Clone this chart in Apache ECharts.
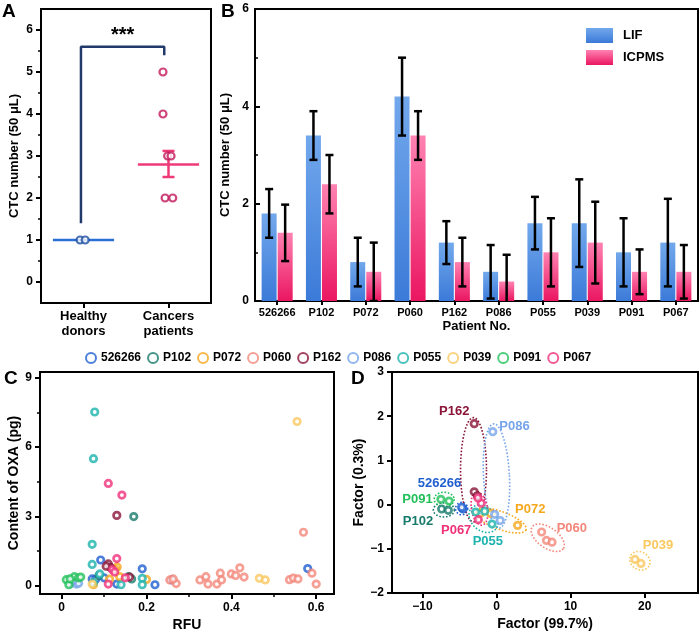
<!DOCTYPE html>
<html><head><meta charset="utf-8">
<script src="https://cdn.jsdelivr.net/npm/echarts@6/dist/echarts.min.js"></script>
<style>html,body{margin:0;padding:0;background:#fff}#c{width:700px;height:633px}</style>
</head><body><div id="c"></div>
<script>
// ---------- Panel A data ----------
const groupsA = ['Healthy\ndonors', 'Cancers\npatients'];
const yTicksA = [0, 1, 2, 3, 4, 5, 6];
const yMinorA = [0.5, 1.5, 2.5, 3.5, 4.5, 5.5];
const healthyPts = [[0.46, 1], [0.52, 1]];
const cancerPts = [[1.435, 5], [1.435, 4], [1.49, 3], [1.53, 3], [1.46, 2], [1.55, 2]];
const healthyMeanLine = [[0.14, 1], [0.86, 1]];
const cancerMeanLine = [[1.14, 2.8], [1.86, 2.8]];
const cancerSem = [[1.5, 2.5, 3.12]];
const bracket = [[0.47, 1.4], [0.47, 5.6], [1.45, 5.6], [1.45, 5.4]];
const sigMark = [[0.96, 5.88, '***']];

// ---------- Panel B data ----------
const patients = ['526266', 'P102', 'P072', 'P060', 'P162', 'P086', 'P055', 'P039', 'P091', 'P067'];
const lifVals = [1.8, 3.4, 0.8, 4.2, 1.2, 0.6, 1.6, 1.6, 1.0, 1.2];
const lifErr  = [0.5, 0.5, 0.5, 0.8, 0.44, 0.55, 0.54, 0.9, 0.7, 0.9];
const icpVals = [1.4, 2.4, 0.6, 3.4, 0.8, 0.4, 1.0, 1.2, 0.6, 0.6];
const icpErr  = [0.58, 0.6, 0.6, 0.5, 0.5, 0.55, 0.7, 0.84, 0.46, 0.55];

// ---------- Panel C data (RFU, OXA pg) ----------
const C_526266 = [[0.092,1.12],[0.19,0.74],[0.22,0.05],[0.26,0.26],[0.58,0.75],[0.072,0.3],[0.08,0.28],[0.13,0.08],[0.1,0.35]];
const C_P102 = [[0.17,3.0],[0.158,0.4],[0.165,0.3],[0.088,0.45]];
const C_P072 = [[0.131,0.82],[0.137,0.4],[0.113,0.29],[0.2,0.28],[0.075,0.05],[0.126,0.72]];
const C_P060 = [[0.57,2.32],[0.255,0.26],[0.27,0.1],[0.326,0.26],[0.34,0.4],[0.345,0.08],[0.366,0.08],[0.374,0.55],[0.377,0.26],[0.4,0.52],[0.41,0.45],[0.42,0.78],[0.43,0.38],[0.537,0.27],[0.546,0.34],[0.557,0.3],[0.59,0.55],[0.6,0.08],[0.263,0.3]];
const C_P162 = [[0.13,3.05],[0.11,0.95],[0.115,0.8],[0.16,0.38],[0.105,0.85]];
const C_P086 = [[0.022,0.1],[0.028,0.2],[0.035,0.08],[0.03,0.25],[0.04,0.12]];
const C_P055 = [[0.078,7.52],[0.075,5.5],[0.072,1.8],[0.072,0.93],[0.09,0.52],[0.19,0.33],[0.19,0.05],[0.14,0.05],[0.075,0.15]];
const C_P039 = [[0.555,7.11],[0.466,0.33],[0.48,0.26],[0.072,0.08]];
const C_P091 = [[0.011,0.27],[0.017,0.05],[0.03,0.4],[0.04,0.35],[0.045,0.38],[0.02,0.3]];
const C_P067 = [[0.11,4.43],[0.142,3.93],[0.13,1.18],[0.11,0.08],[0.15,0.35],[0.12,0.7],[0.125,0.6]];
const xTicksC = [0, 0.2, 0.4, 0.6];
const xMinorC = [0.1, 0.3, 0.5];
const yTicksC = [0, 3, 6, 9];
const yMinorC = [1.5, 4.5, 7.5];

// ---------- Panel D data (factor scores) ----------
const D_526266 = [[-4.6,-0.08],[-4.5,-0.1],[-4.7,-0.06]];
const D_P102 = [[-7.4,-0.1],[-6.5,-0.13]];
const D_P072 = [[-2.2,-0.2],[-0.8,-0.2],[2.85,-0.47]];
const D_P060 = [[6.1,-0.62],[6.75,-0.81],[7.5,-0.85]];
const D_P162 = [[-3.0,1.83],[-3.0,0.29],[-2.6,0.2]];
const D_P086 = [[-0.5,1.65],[-0.25,-0.22],[0.5,-0.36]];
const D_P055 = [[-2.8,-0.17],[-0.6,-0.44],[-1.6,-0.15]];
const D_P039 = [[18.7,-1.24],[19.5,-1.33]];
const D_P091 = [[-7.5,0.12],[-6.4,0.08]];
const D_P067 = [[-2.05,0.03],[-2.5,0.15],[-2.45,-0.34]];
// ellipses: [cx, cy, semi-x, semi-y, angleDeg, patientIndex]
const ellipsesD = [
  [-4.7,-0.09,0.81,0.14,0,0],[-7.1,-0.12,1.42,0.16,0,1],[0.57,-0.36,3.64,0.2,20,2],
  [6.92,-0.75,2.56,0.23,35,3],[-3.1,0.79,1.75,1.18,0,4],[0.0,0.65,1.75,1.18,-3,5],
  [-1.75,-0.32,2.16,0.27,40,6],[19.35,-1.27,1.42,0.2,30,7],[-7.06,0.12,1.35,0.16,0,8],
  [-2.3,-0.09,1.08,0.38,-10,9]
];
// group labels: [x, y, patientIndex]
const labelsD = [[-7.7,0.47,0],[-10.6,-0.37,1],[4.55,-0.1,2],[10.17,-0.55,3],[-5.7,2.1,4],[2.43,1.78,5],[-1.16,-0.83,6],[21.8,-0.92,7],[-10.66,0.12,8],[-5.44,-0.58,9]];
const xTicksD = [-10, 0, 10, 20];

const cSets = [C_526266, C_P102, C_P072, C_P060, C_P162, C_P086, C_P055, C_P039, C_P091, C_P067];
const dSets = [D_526266, D_P102, D_P072, D_P060, D_P162, D_P086, D_P055, D_P039, D_P091, D_P067];

// ---------- styles ----------
const colors = ['#1f5fcf','#167a6c','#f5a81c','#f4877a','#8a1538','#76a5ea','#1bb3ad','#fac85e','#22c05a','#f0307a'];
const FONT = "'Liberation Sans', Arial, sans-serif";
const lab = (s) => ({ fontFamily: FONT, fontWeight: 'bold', fontSize: s, color: '#000' });
const minus = v => String(v).replace('-', '\u2212');

const axLine = { show: true, onZero: false, lineStyle: { color: '#000', width: 2 } };
const tick = (vals, len, inside) => ({ show: true, length: len, inside: !!inside, customValues: vals, lineStyle: { color: '#000', width: 2 } });

function minorAxis(gridIndex, min, max, vals, isY) {
  return { type: 'value', gridIndex, min, max, position: isY ? 'left' : 'bottom',
    axisLine: { show: false, onZero: false }, splitLine: { show: false }, axisLabel: { show: false },
    axisTick: { show: true, length: 3, customValues: vals, lineStyle: { color: '#000', width: 1.5 } } };
}
const ring = (c, w) => ({ color: '#fff', borderColor: c, borderWidth: w });

const errRender = (offset) => function (params, api) {
  const c = api.value(0);
  const lo = api.coord([c, api.value(1)]);
  const hi = api.coord([c, api.value(2)]);
  const x = lo[0] + offset, w = 4;
  const st = { stroke: '#000', lineWidth: 2.5 };
  return { type: 'group', children: [
    { type: 'line', shape: { x1: x, y1: lo[1], x2: x, y2: hi[1] }, style: st },
    { type: 'line', shape: { x1: x - w, y1: lo[1], x2: x + w, y2: lo[1] }, style: st },
    { type: 'line', shape: { x1: x - w, y1: hi[1], x2: x + w, y2: hi[1] }, style: st }
  ] };
};

const grad = (top, bot) => new echarts.graphic.LinearGradient(0, 0, 0, 1, [{ offset: 0, color: top }, { offset: 1, color: bot }]);
const lifColor = grad('#72a8ec', '#3b7ad8');
const icpColor = grad('#ff82b2', '#ea1660');

const series = [];
// Panel A
series.push({ type: 'line', xAxisIndex: 0, yAxisIndex: 0, data: healthyMeanLine, symbol: 'none', lineStyle: { color: '#2a6fd6', width: 2.5 }, z: 3 });
series.push({ type: 'line', xAxisIndex: 0, yAxisIndex: 0, data: cancerMeanLine, symbol: 'none', lineStyle: { color: '#ee3a78', width: 2.5 }, z: 3 });
series.push({ type: 'line', xAxisIndex: 0, yAxisIndex: 0, data: bracket, symbol: 'none', lineStyle: { color: '#22396b', width: 2.5 }, z: 3 });
series.push({ type: 'custom', xAxisIndex: 0, yAxisIndex: 0, data: cancerSem, z: 4,
  renderItem: function (params, api) {
    const lo = api.coord([api.value(0), api.value(1)]), hi = api.coord([api.value(0), api.value(2)]);
    const st = { stroke: '#ee3a78', lineWidth: 2.5 }, w = 6;
    return { type: 'group', children: [
      { type: 'line', shape: { x1: lo[0], y1: lo[1], x2: hi[0], y2: hi[1] }, style: st },
      { type: 'line', shape: { x1: lo[0] - w, y1: lo[1], x2: lo[0] + w, y2: lo[1] }, style: st },
      { type: 'line', shape: { x1: hi[0] - w, y1: hi[1], x2: hi[0] + w, y2: hi[1] }, style: st }] };
  } });
series.push({ type: 'scatter', xAxisIndex: 0, yAxisIndex: 0, data: healthyPts, symbol: 'circle', symbolSize: 7, itemStyle: ring('#1e4fa3', 2.2), z: 5 });
series.push({ type: 'scatter', xAxisIndex: 0, yAxisIndex: 0, data: cancerPts, symbol: 'circle', symbolSize: 7, itemStyle: ring('#c2185b', 2.2), z: 5 });
series.push({ type: 'custom', xAxisIndex: 0, yAxisIndex: 0, data: sigMark,
  renderItem: (p, api) => { const c = api.coord([api.value(0), api.value(1)]);
    return { type: 'text', x: c[0], y: c[1], style: { text: sigMark[p.dataIndex][2], fill: '#000', font: 'bold 20px ' + FONT, align: 'center', verticalAlign: 'middle' } }; } });

// Panel B
series.push({ name: 'LIF', type: 'bar', xAxisIndex: 1, yAxisIndex: 1, data: lifVals, barWidth: 15, barGap: '7%', itemStyle: { color: lifColor } });
series.push({ name: 'ICPMS', type: 'bar', xAxisIndex: 1, yAxisIndex: 1, data: icpVals, barWidth: 15, barGap: '7%', itemStyle: { color: icpColor } });
series.push({ type: 'custom', xAxisIndex: 1, yAxisIndex: 1, renderItem: errRender(-8), z: 5,
  data: lifVals.map((v, i) => [i, v - lifErr[i], v + lifErr[i]]) });
series.push({ type: 'custom', xAxisIndex: 1, yAxisIndex: 1, renderItem: errRender(8), z: 5, clip: true,
  data: icpVals.map((v, i) => [i, v - icpErr[i], v + icpErr[i]]) });

// Panel C
patients.forEach((p, i) => series.push({ name: p, type: 'scatter', xAxisIndex: 2, yAxisIndex: 2, data: cSets[i],
  symbol: 'circle', symbolSize: 6.5, itemStyle: ring(colors[i], 2.7) }));

// Panel D
series.push({ type: 'custom', xAxisIndex: 3, yAxisIndex: 3, data: ellipsesD, encode: { x: 0, y: 1 }, z: 1,
  renderItem: function (params, api) {
    const c = api.coord([api.value(0), api.value(1)]);
    const a = api.size([api.value(2), 0])[0], b = api.size([0, api.value(3)])[1];
    const phi = api.value(4) * Math.PI / 180;
    const pts = [];
    for (let k = 0; k <= 72; k++) { const t = k / 72 * 2 * Math.PI; const ex = a * Math.cos(t), ey = b * Math.sin(t);
      pts.push([c[0] + ex * Math.cos(phi) - ey * Math.sin(phi), c[1] + ex * Math.sin(phi) + ey * Math.cos(phi)]); }
    return { type: 'polyline', shape: { points: pts }, style: { stroke: colors[api.value(5)], fill: null, lineWidth: 1.6, lineDash: [1.6, 1.8] } };
  } });
patients.forEach((p, i) => series.push({ name: p, type: 'scatter', xAxisIndex: 3, yAxisIndex: 3, data: dSets[i],
  symbol: 'circle', symbolSize: 6.5, itemStyle: ring(colors[i], 2.7), z: 3 }));
series.push({ type: 'custom', xAxisIndex: 3, yAxisIndex: 3, data: labelsD, encode: { x: 0, y: 1 }, z: 6,
  renderItem: (p, api) => { const c = api.coord([api.value(0), api.value(1)]); const idx = api.value(2);
    return { type: 'text', x: c[0], y: c[1], style: { text: patients[idx], fill: colors[idx], font: 'bold 13px ' + FONT, align: 'center', verticalAlign: 'middle' } }; } });

const gridBase = { show: true, borderColor: '#000', borderWidth: 2, backgroundColor: 'transparent', containLabel: false };

const option = {
  animation: false,
  textStyle: { fontFamily: FONT },
  grid: [
    Object.assign({ left: 41, top: 9, width: 170, height: 294 }, gridBase),
    Object.assign({ left: 255, top: 9, width: 443, height: 292 }, gridBase),
    Object.assign({ left: 40, top: 372, width: 294, height: 222 }, gridBase),
    Object.assign({ left: 392, top: 372, width: 306, height: 221 }, gridBase)
  ],
  xAxis: [
    { type: 'value', gridIndex: 0, min: 0, max: 2, axisLine: axLine, splitLine: { show: false },
      axisTick: tick([0.5, 1.5], 5),
      axisLabel: Object.assign(lab(13), { customValues: [0.5, 1.5], formatter: v => groupsA[Math.round(v - 0.5)], lineHeight: 15, margin: 6 }) },
    { type: 'category', gridIndex: 1, data: patients, axisLine: axLine,
      axisTick: { show: true, alignWithLabel: true, length: 4, lineStyle: { color: '#000', width: 2 } },
      axisLabel: Object.assign(lab(11), { interval: 0, margin: 6 }),
      name: 'Patient No.', nameLocation: 'middle', nameGap: 19, nameTextStyle: lab(13) },
    { type: 'value', gridIndex: 2, min: -0.051, max: 0.642, axisLine: axLine, splitLine: { show: false },
      axisTick: tick(xTicksC, 5), axisLabel: Object.assign(lab(12), { customValues: xTicksC, margin: 8 }),
      name: 'RFU', nameLocation: 'middle', nameGap: 24, nameTextStyle: lab(14) },
    { type: 'value', gridIndex: 3, min: -14.1, max: 27.2, axisLine: axLine, splitLine: { show: false },
      axisTick: tick(xTicksD, 5), axisLabel: Object.assign(lab(12), { customValues: xTicksD, margin: 8, formatter: minus }),
      name: 'Factor (99.7%)', nameLocation: 'middle', nameGap: 24, nameTextStyle: lab(14) },
    minorAxis(2, -0.051, 0.642, xMinorC, false)
  ],
  yAxis: [
    { type: 'value', gridIndex: 0, min: -0.5, max: 6.5, axisLine: axLine, splitLine: { show: false },
      axisTick: tick(yTicksA, 5), axisLabel: Object.assign(lab(12), { customValues: yTicksA, margin: 8 }),
      name: 'CTC number (50 \u03bcL)', nameLocation: 'middle', nameGap: 20, nameTextStyle: lab(13) },
    { type: 'value', gridIndex: 1, min: 0, max: 6, interval: 2, axisLine: axLine, splitLine: { show: false },
      axisTick: { show: true, inside: true, length: 5, lineStyle: { color: '#000', width: 2 } },
      minorTick: { show: true, splitNumber: 2, length: 3, lineStyle: { color: '#000', width: 1.5 } },
      axisLabel: Object.assign(lab(12), { margin: 6 }),
      name: 'CTC number (50 \u03bcL)', nameLocation: 'middle', nameGap: 18, nameTextStyle: lab(13) },
    { type: 'value', gridIndex: 2, min: -0.35, max: 9.25, axisLine: axLine, splitLine: { show: false },
      axisTick: tick(yTicksC, 5), axisLabel: Object.assign(lab(12), { customValues: yTicksC, margin: 8 }),
      name: 'Content of OXA (pg)', nameLocation: 'middle', nameGap: 19, nameTextStyle: lab(14) },
    { type: 'value', gridIndex: 3, min: -2, max: 3, interval: 1, axisLine: axLine, splitLine: { show: false },
      axisTick: { show: true, length: 5, lineStyle: { color: '#000', width: 2 } },
      axisLabel: Object.assign(lab(12), { margin: 8, formatter: minus }),
      name: 'Factor (0.3%)', nameLocation: 'middle', nameGap: 21, nameTextStyle: lab(14) },
    minorAxis(0, -0.5, 6.5, yMinorA, true),
    minorAxis(2, -0.35, 9.25, yMinorC, true)
  ],
  legend: [
    { data: ['LIF', 'ICPMS'], orient: 'vertical', left: 586, top: 28, itemWidth: 27, itemHeight: 15, itemGap: 7, icon: 'rect',
      padding: 0, textStyle: Object.assign(lab(13), { padding: [0, 0, 0, 5] }) },
    { data: patients, left: 85, top: 352, itemWidth: 10, itemHeight: 10, itemGap: 6, padding: 0,
      textStyle: lab(12) }
  ],
  graphic: [
    { type: 'text', left: 2, top: 2, style: { text: 'A', font: 'bold 19px ' + FONT, fill: '#000' } },
    { type: 'text', left: 221, top: 2, style: { text: 'B', font: 'bold 19px ' + FONT, fill: '#000' } },
    { type: 'text', left: 4, top: 369, style: { text: 'C', font: 'bold 19px ' + FONT, fill: '#000' } },
    { type: 'text', left: 351, top: 369, style: { text: 'D', font: 'bold 19px ' + FONT, fill: '#000' } }
  ],
  series: series
};
const chart = echarts.init(document.getElementById('c'), null, { renderer: 'canvas' });
chart.setOption(option);
</script></body></html>
